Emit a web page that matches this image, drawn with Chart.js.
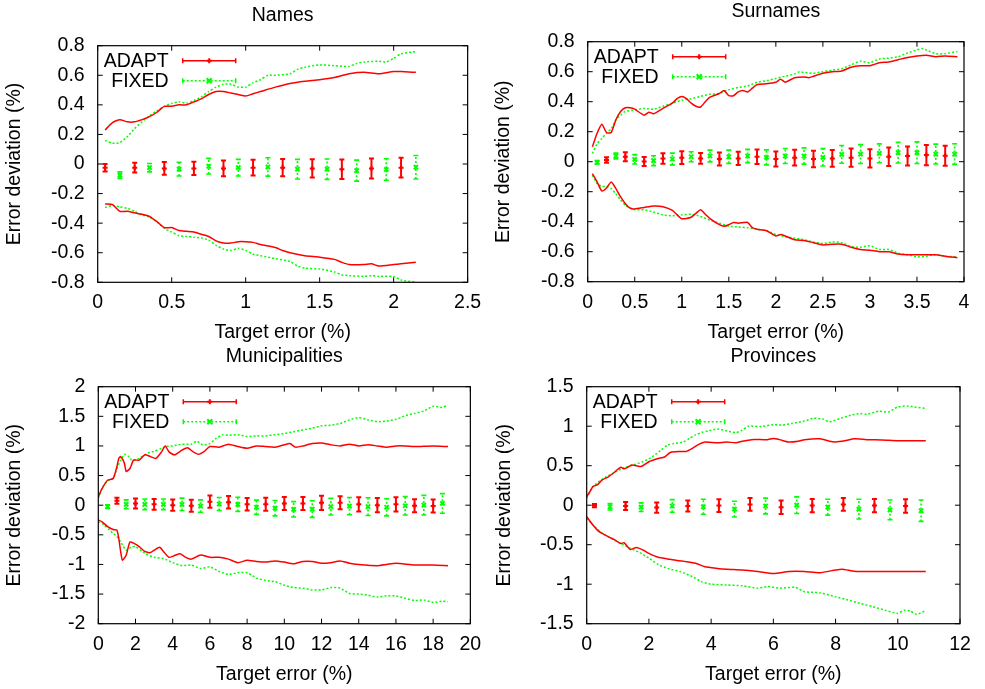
<!DOCTYPE html>
<html><head><meta charset="utf-8">
<script src="https://cdn.jsdelivr.net/npm/chart.js@4"></script>
<style>
html,body{margin:0;padding:0;background:#fff;}
#wrap{position:relative;width:985px;height:689px;background:#fff;overflow:hidden;}
canvas{position:absolute;}
</style></head><body>
<div id="wrap">
<canvas id="c1" width="490" height="345" style="left:0;top:0"></canvas>
<canvas id="c2" width="495" height="345" style="left:490px;top:0"></canvas>
<canvas id="c3" width="490" height="344" style="left:0;top:345px"></canvas>
<canvas id="c4" width="495" height="344" style="left:490px;top:345px"></canvas>
</div>
<script>
// ---------------- DATA ----------------
const titles = ['Names', 'Surnames', 'Municipalities', 'Provinces'];
const seriesNames = ['ADAPT', 'FIXED'];
const xAxisLabel = 'Target error (%)';
const yAxisLabel = 'Error deviation (%)';

const namesXTicks = [0, 0.5, 1, 1.5, 2, 2.5];
const namesYTicks = [-0.8, -0.6, -0.4, -0.2, 0, 0.2, 0.4, 0.6, 0.8];
const surXTicks = [0, 0.5, 1, 1.5, 2, 2.5, 3, 3.5, 4];
const surYTicks = [-0.8, -0.6, -0.4, -0.2, 0, 0.2, 0.4, 0.6, 0.8];
const muniXTicks = [0, 2, 4, 6, 8, 10, 12, 14, 16, 18, 20];
const muniYTicks = [-2, -1.5, -1, -0.5, 0, 0.5, 1, 1.5, 2];
const provXTicks = [0, 2, 4, 6, 8, 10, 12];
const provYTicks = [-1.5, -1, -0.5, 0, 0.5, 1, 1.5];

// Names: envelope lines [x, y]
const namesAdaptHi = [[0.05,0.23],[0.1,0.28],[0.15,0.30],[0.2,0.285],[0.25,0.285],[0.3,0.30],[0.35,0.32],[0.4,0.35],[0.45,0.39],[0.5,0.39],[0.55,0.40],[0.6,0.40],[0.65,0.42],[0.7,0.44],[0.75,0.47],[0.8,0.49],[0.85,0.49],[0.9,0.48],[0.95,0.47],[1.0,0.46],[1.05,0.475],[1.1,0.49],[1.2,0.52],[1.3,0.545],[1.4,0.56],[1.5,0.57],[1.6,0.585],[1.7,0.61],[1.8,0.62],[1.9,0.61],[2.0,0.625],[2.05,0.625],[2.15,0.62]];
const namesFixedHi = [[0.05,0.16],[0.1,0.14],[0.15,0.145],[0.2,0.185],[0.25,0.24],[0.3,0.285],[0.35,0.325],[0.4,0.36],[0.45,0.39],[0.5,0.41],[0.55,0.42],[0.6,0.41],[0.65,0.43],[0.7,0.455],[0.75,0.49],[0.8,0.52],[0.85,0.54],[0.9,0.54],[0.95,0.52],[1.0,0.52],[1.05,0.55],[1.1,0.57],[1.15,0.60],[1.2,0.60],[1.3,0.61],[1.35,0.64],[1.4,0.655],[1.5,0.67],[1.6,0.665],[1.7,0.66],[1.75,0.68],[1.8,0.69],[1.9,0.695],[1.95,0.69],[2.0,0.715],[2.05,0.745],[2.15,0.76]];
const namesAdaptLo = [[0.05,-0.27],[0.1,-0.275],[0.15,-0.32],[0.2,-0.32],[0.25,-0.33],[0.3,-0.34],[0.35,-0.355],[0.4,-0.39],[0.45,-0.43],[0.5,-0.43],[0.55,-0.45],[0.6,-0.455],[0.65,-0.46],[0.7,-0.475],[0.75,-0.49],[0.8,-0.52],[0.85,-0.535],[0.9,-0.535],[0.95,-0.525],[1.0,-0.525],[1.05,-0.53],[1.1,-0.545],[1.2,-0.565],[1.25,-0.585],[1.3,-0.60],[1.4,-0.62],[1.5,-0.63],[1.6,-0.645],[1.65,-0.665],[1.7,-0.68],[1.8,-0.68],[1.85,-0.675],[1.9,-0.69],[2.0,-0.68],[2.05,-0.675],[2.15,-0.665]];
const namesFixedLo = [[0.05,-0.295],[0.1,-0.28],[0.15,-0.29],[0.2,-0.30],[0.25,-0.32],[0.3,-0.345],[0.35,-0.36],[0.4,-0.39],[0.45,-0.435],[0.5,-0.46],[0.55,-0.485],[0.6,-0.49],[0.65,-0.495],[0.7,-0.50],[0.75,-0.515],[0.8,-0.55],[0.85,-0.575],[0.9,-0.585],[0.95,-0.57],[1.0,-0.585],[1.05,-0.61],[1.1,-0.62],[1.2,-0.64],[1.3,-0.66],[1.35,-0.69],[1.4,-0.705],[1.5,-0.71],[1.6,-0.73],[1.65,-0.75],[1.7,-0.755],[1.8,-0.76],[1.85,-0.755],[1.9,-0.76],[2.0,-0.76],[2.05,-0.785],[2.15,-0.80]];
// Names: error bars [x, mean, half-width]
const namesAdaptBars = [[0.05,-0.025,0.025],[0.25,-0.025,0.033],[0.45,-0.03,0.043],[0.65,-0.03,0.045],[0.85,-0.03,0.053],[1.05,-0.025,0.053],[1.25,-0.025,0.058],[1.45,-0.03,0.062],[1.65,-0.035,0.066],[1.85,-0.03,0.068],[2.05,-0.025,0.067]];
const namesFixedBars = [[0.15,-0.075,0.022],[0.35,-0.025,0.028],[0.55,-0.035,0.046],[0.75,-0.015,0.053],[0.95,-0.025,0.056],[1.15,-0.02,0.062],[1.35,-0.035,0.066],[1.55,-0.035,0.069],[1.75,-0.045,0.071],[1.95,-0.037,0.073],[2.15,-0.022,0.079]];

// Surnames
const surAdaptHi = [[0.05,0.10],[0.1,0.19],[0.15,0.25],[0.2,0.195],[0.25,0.195],[0.3,0.28],[0.35,0.335],[0.4,0.36],[0.45,0.36],[0.5,0.35],[0.6,0.31],[0.65,0.33],[0.7,0.32],[0.8,0.355],[0.9,0.39],[0.95,0.42],[1.0,0.435],[1.05,0.42],[1.1,0.39],[1.15,0.37],[1.2,0.365],[1.25,0.40],[1.3,0.43],[1.4,0.455],[1.45,0.475],[1.5,0.44],[1.55,0.44],[1.6,0.465],[1.65,0.475],[1.7,0.465],[1.75,0.49],[1.8,0.515],[1.9,0.52],[2.0,0.53],[2.05,0.55],[2.1,0.53],[2.2,0.56],[2.3,0.565],[2.35,0.56],[2.4,0.57],[2.5,0.59],[2.6,0.60],[2.7,0.605],[2.8,0.63],[2.9,0.64],[3.0,0.64],[3.1,0.66],[3.2,0.665],[3.3,0.68],[3.4,0.695],[3.5,0.705],[3.6,0.71],[3.7,0.70],[3.8,0.705],[3.93,0.70]];
const surFixedHi = [[0.05,0.055],[0.1,0.12],[0.15,0.155],[0.2,0.19],[0.25,0.22],[0.3,0.28],[0.35,0.31],[0.4,0.335],[0.5,0.345],[0.6,0.355],[0.7,0.35],[0.8,0.37],[0.9,0.39],[1.0,0.41],[1.1,0.42],[1.2,0.435],[1.3,0.45],[1.4,0.455],[1.5,0.48],[1.6,0.495],[1.7,0.505],[1.8,0.53],[1.9,0.54],[2.0,0.555],[2.1,0.57],[2.2,0.585],[2.25,0.60],[2.3,0.595],[2.4,0.59],[2.5,0.60],[2.6,0.61],[2.7,0.62],[2.8,0.645],[2.9,0.67],[3.0,0.66],[3.1,0.685],[3.2,0.69],[3.3,0.70],[3.4,0.725],[3.5,0.745],[3.55,0.755],[3.6,0.745],[3.7,0.72],[3.8,0.72],[3.93,0.735]];
const surAdaptLo = [[0.05,-0.08],[0.1,-0.135],[0.15,-0.195],[0.2,-0.175],[0.25,-0.135],[0.3,-0.18],[0.35,-0.235],[0.4,-0.28],[0.45,-0.31],[0.5,-0.315],[0.6,-0.305],[0.7,-0.295],[0.8,-0.30],[0.9,-0.325],[1.0,-0.38],[1.1,-0.37],[1.15,-0.345],[1.2,-0.32],[1.25,-0.35],[1.3,-0.38],[1.4,-0.42],[1.45,-0.43],[1.5,-0.42],[1.55,-0.405],[1.6,-0.41],[1.7,-0.405],[1.75,-0.44],[1.8,-0.45],[1.9,-0.46],[2.0,-0.495],[2.05,-0.485],[2.1,-0.495],[2.2,-0.52],[2.3,-0.525],[2.4,-0.54],[2.5,-0.555],[2.6,-0.55],[2.7,-0.55],[2.8,-0.57],[2.9,-0.585],[3.0,-0.59],[3.1,-0.60],[3.2,-0.60],[3.3,-0.615],[3.4,-0.62],[3.5,-0.62],[3.6,-0.62],[3.7,-0.62],[3.8,-0.63],[3.93,-0.64]];
const surFixedLo = [[0.05,-0.09],[0.1,-0.145],[0.15,-0.165],[0.2,-0.165],[0.25,-0.18],[0.3,-0.215],[0.35,-0.255],[0.4,-0.29],[0.5,-0.32],[0.6,-0.32],[0.7,-0.335],[0.8,-0.355],[0.9,-0.36],[1.0,-0.355],[1.1,-0.35],[1.2,-0.365],[1.3,-0.39],[1.4,-0.41],[1.5,-0.43],[1.6,-0.435],[1.7,-0.44],[1.8,-0.45],[1.9,-0.46],[2.0,-0.485],[2.1,-0.50],[2.2,-0.51],[2.3,-0.52],[2.4,-0.535],[2.5,-0.545],[2.6,-0.535],[2.7,-0.54],[2.8,-0.565],[2.9,-0.57],[3.0,-0.56],[3.1,-0.585],[3.2,-0.585],[3.3,-0.61],[3.4,-0.62],[3.5,-0.635],[3.6,-0.63],[3.7,-0.62],[3.8,-0.63],[3.93,-0.635]];
const surAdaptBars = [[0.2,0.011,0.018],[0.4,0.033,0.03],[0.6,0.002,0.03],[0.8,0.022,0.035],[1.0,0.027,0.042],[1.2,0.022,0.036],[1.4,0.018,0.043],[1.6,0.022,0.044],[1.8,0.033,0.049],[2.0,0.018,0.05],[2.2,0.027,0.052],[2.4,0.018,0.055],[2.6,0.022,0.056],[2.8,0.027,0.061],[3.0,0.022,0.061],[3.2,0.033,0.062],[3.4,0.038,0.063],[3.6,0.044,0.067],[3.8,0.04,0.067]];
const surFixedBars = [[0.1,-0.004,0.011],[0.3,0.038,0.019],[0.5,0.016,0.031],[0.7,0.007,0.033],[0.9,0.018,0.039],[1.1,0.033,0.033],[1.3,0.038,0.039],[1.5,0.033,0.044],[1.7,0.038,0.044],[1.9,0.029,0.05],[2.1,0.038,0.05],[2.3,0.038,0.054],[2.5,0.029,0.058],[2.7,0.049,0.059],[2.9,0.051,0.063],[3.1,0.056,0.063],[3.3,0.06,0.069],[3.5,0.06,0.072],[3.7,0.051,0.066],[3.9,0.051,0.069]];

// Municipalities
const muniAdaptHi = [[0,0.14],[0.2,0.28],[0.5,0.42],[0.8,0.45],[1.0,0.65],[1.1,0.79],[1.2,0.82],[1.4,0.71],[1.5,0.57],[1.7,0.62],[1.9,0.76],[2.2,0.76],[2.5,0.85],[2.8,0.82],[3.1,0.79],[3.4,0.90],[3.6,1.00],[3.8,0.90],[4.1,0.85],[4.5,0.93],[4.8,0.97],[5.1,0.90],[5.4,0.86],[5.7,0.91],[6.0,0.99],[6.5,0.98],[7.0,1.03],[7.5,0.99],[8.0,0.96],[8.5,1.00],[9.0,0.99],[9.5,0.98],[10.0,1.02],[10.3,1.04],[10.6,0.98],[11.0,1.00],[11.5,1.04],[12.0,1.05],[12.5,1.02],[13.0,1.00],[13.5,1.03],[14.0,1.00],[14.5,1.02],[15.0,1.00],[15.5,0.98],[16.0,1.00],[16.5,1.00],[17.0,0.99],[18.0,1.00],[18.8,0.99]];
const muniFixedHi = [[0,0.12],[0.2,0.28],[0.5,0.41],[0.8,0.46],[1.0,0.62],[1.2,0.76],[1.4,0.86],[1.6,0.83],[1.8,0.76],[2.2,0.79],[2.6,0.87],[3.0,0.91],[3.4,0.96],[3.6,0.99],[4.0,1.00],[4.5,1.03],[5.0,1.03],[5.3,1.08],[5.6,1.02],[6.0,1.04],[6.3,1.12],[6.7,1.19],[7.0,1.18],[7.5,1.19],[8.0,1.16],[8.5,1.17],[9.0,1.17],[9.5,1.19],[10.0,1.21],[10.5,1.24],[11.0,1.27],[11.5,1.30],[12.0,1.34],[12.5,1.35],[13.0,1.38],[13.5,1.44],[14.0,1.48],[14.5,1.44],[15.0,1.41],[15.5,1.42],[16.0,1.45],[16.5,1.51],[17.0,1.55],[17.5,1.59],[18.0,1.67],[18.5,1.65],[18.8,1.69]];
const muniAdaptLo = [[0,-0.25],[0.2,-0.28],[0.5,-0.36],[0.8,-0.41],[1.0,-0.42],[1.1,-0.56],[1.2,-0.78],[1.3,-0.93],[1.5,-0.84],[1.7,-0.62],[1.9,-0.64],[2.2,-0.70],[2.5,-0.78],[2.8,-0.80],[3.0,-0.76],[3.3,-0.71],[3.5,-0.78],[3.8,-0.88],[4.1,-0.85],[4.4,-0.82],[4.7,-0.88],[5.0,-0.91],[5.5,-0.84],[6.0,-0.88],[6.5,-0.88],[7.0,-0.91],[7.5,-0.97],[8.0,-0.93],[8.5,-0.95],[9.0,-0.96],[9.5,-0.94],[10.0,-0.96],[10.5,-0.99],[11.0,-0.95],[11.5,-0.95],[12.0,-0.98],[12.5,-0.97],[13.0,-0.94],[13.5,-0.98],[14.0,-1.00],[15.0,-1.02],[15.5,-1.00],[16.0,-0.98],[17.0,-1.01],[18.0,-1.01],[18.8,-1.02]];
const muniFixedLo = [[0,-0.28],[0.3,-0.33],[0.6,-0.42],[1.0,-0.53],[1.2,-0.62],[1.5,-0.76],[1.8,-0.70],[2.0,-0.70],[2.5,-0.81],[3.0,-0.88],[3.5,-0.90],[4.0,-0.97],[4.5,-1.02],[5.0,-1.01],[5.5,-1.07],[6.0,-1.04],[6.5,-1.12],[7.0,-1.17],[7.5,-1.14],[8.0,-1.14],[8.5,-1.23],[9.0,-1.27],[9.5,-1.29],[10.0,-1.35],[10.5,-1.39],[11.0,-1.40],[11.5,-1.43],[12.0,-1.43],[12.5,-1.39],[13.0,-1.40],[13.5,-1.49],[14.0,-1.50],[14.5,-1.52],[15.0,-1.55],[15.5,-1.53],[16.0,-1.53],[16.5,-1.57],[17.0,-1.61],[17.5,-1.60],[18.0,-1.64],[18.5,-1.62],[18.8,-1.63]];
const muniAdaptBars = [[1,0.076,0.05],[2,0.03,0.085],[3,0.015,0.09],[4,0,0.095],[5,-0.01,0.1],[6,0.06,0.105],[7,0.05,0.105],[8,0.015,0.105],[9,0.015,0.11],[10,0.03,0.11],[11,0.03,0.11],[12,0.04,0.12],[13,0.04,0.11],[14,0.015,0.12],[15,0,0.12],[16,0.015,0.12],[17,-0.01,0.11],[18,-0.015,0.11]];
const muniFixedBars = [[0.5,-0.025,0.03],[1.5,0.015,0.075],[2.5,0.015,0.09],[3.5,0.015,0.09],[4.5,0.015,0.105],[5.5,-0.015,0.105],[6.5,0.02,0.11],[7.5,0.015,0.12],[8.5,-0.035,0.12],[9.5,-0.05,0.13],[10.5,-0.07,0.13],[11.5,-0.065,0.14],[12.5,-0.025,0.14],[13.5,-0.015,0.145],[14.5,-0.025,0.15],[15.5,-0.035,0.145],[16.5,-0.01,0.155],[17.5,0,0.165],[18.5,0.03,0.165]];

// Provinces
const provAdaptHi = [[0,0.11],[0.1,0.17],[0.2,0.235],[0.35,0.26],[0.5,0.32],[0.7,0.36],[0.9,0.42],[1.0,0.455],[1.1,0.48],[1.2,0.46],[1.3,0.475],[1.45,0.51],[1.6,0.50],[1.75,0.49],[2.0,0.55],[2.3,0.59],[2.5,0.61],[2.7,0.67],[3.0,0.68],[3.2,0.68],[3.4,0.72],[3.6,0.77],[3.8,0.80],[4.2,0.79],[4.5,0.80],[4.8,0.79],[5.0,0.81],[5.3,0.83],[5.8,0.83],[6.0,0.845],[6.2,0.83],[6.5,0.80],[6.8,0.81],[7.0,0.83],[7.5,0.84],[7.8,0.81],[8.0,0.80],[8.3,0.815],[8.6,0.84],[9.0,0.83],[9.5,0.825],[10.0,0.815],[10.5,0.815],[10.9,0.815]];
const provFixedHi = [[0,0.09],[0.2,0.235],[0.5,0.33],[0.9,0.415],[1.2,0.475],[1.5,0.51],[1.8,0.55],[2.1,0.61],[2.4,0.70],[2.6,0.76],[2.8,0.78],[3.1,0.80],[3.3,0.845],[3.5,0.89],[3.7,0.92],[3.9,0.94],[4.2,0.965],[4.5,0.94],[4.8,0.92],[5.0,0.95],[5.2,1.00],[5.6,0.995],[6.0,1.02],[6.3,1.015],[6.6,1.035],[7.0,1.065],[7.3,1.10],[7.6,1.09],[7.8,1.055],[8.2,1.105],[8.5,1.14],[8.8,1.16],[9.0,1.15],[9.4,1.19],[9.7,1.18],[10.0,1.245],[10.3,1.255],[10.6,1.24],[10.9,1.225]];
const provAdaptLo = [[0,-0.145],[0.2,-0.25],[0.4,-0.335],[0.7,-0.40],[0.9,-0.44],[1.1,-0.485],[1.2,-0.475],[1.4,-0.56],[1.6,-0.535],[1.8,-0.565],[2.0,-0.61],[2.3,-0.66],[2.6,-0.68],[2.9,-0.70],[3.2,-0.715],[3.5,-0.735],[3.8,-0.78],[4.2,-0.80],[4.5,-0.81],[5.0,-0.82],[5.5,-0.84],[6.0,-0.865],[6.5,-0.84],[7.0,-0.84],[7.5,-0.855],[8.0,-0.82],[8.2,-0.81],[8.6,-0.835],[9.0,-0.84],[10.0,-0.84],[10.9,-0.84]];
const provFixedLo = [[0,-0.165],[0.2,-0.25],[0.5,-0.355],[0.8,-0.42],[1.1,-0.485],[1.4,-0.545],[1.7,-0.60],[2.0,-0.67],[2.3,-0.75],[2.6,-0.80],[3.0,-0.84],[3.4,-0.905],[3.7,-0.97],[4.0,-1.00],[4.5,-1.01],[5.0,-1.02],[5.5,-1.05],[5.8,-1.03],[6.2,-1.05],[6.7,-1.04],[7.0,-1.095],[7.5,-1.11],[8.0,-1.16],[8.4,-1.20],[8.8,-1.245],[9.2,-1.285],[9.6,-1.33],[10.0,-1.37],[10.2,-1.33],[10.4,-1.34],[10.6,-1.38],[10.9,-1.335]];
const provAdaptBars = [[0.25,-0.005,0.02],[1.25,-0.01,0.05],[2.25,-0.03,0.065],[3.25,-0.01,0.07],[4.25,-0.005,0.08],[5.25,0.01,0.08],[6.25,-0.025,0.085],[7.25,-0.005,0.085],[8.25,0.01,0.08],[9.25,-0.005,0.085],[10.25,-0.01,0.085]];
const provFixedBars = [[0.75,-0.02,0.04],[1.75,-0.025,0.055],[2.75,-0.01,0.08],[3.75,-0.02,0.095],[4.75,-0.05,0.1],[5.75,-0.01,0.1],[6.75,0,0.105],[7.75,-0.025,0.1],[8.75,-0.05,0.125],[9.75,-0.06,0.125],[10.75,-0.07,0.135]];

// ---------------- STYLE ----------------
const FONT = '"Liberation Sans", Arial, Helvetica, sans-serif';
const FS = 19.5;
const HALF_LH = FS * 1.2 / 2;
const RED = '#ff0000';
const GREEN = '#00ff00';
const DOT = [2, 2];
const CAP = 2.5;
const TICK_LEN = 5;

function drawMarker(ctx, style, x, y, r) {
  ctx.beginPath();
  if (style === 'cross') {
    ctx.moveTo(x - r, y); ctx.lineTo(x + r, y);
    ctx.moveTo(x, y - r); ctx.lineTo(x, y + r);
  } else {
    ctx.moveTo(x - r, y - r); ctx.lineTo(x + r, y + r);
    ctx.moveTo(x - r, y + r); ctx.lineTo(x + r, y - r);
  }
  ctx.stroke();
}

const gpPlugin = {
  id: 'gp',
  afterDatasetsDraw(chart) {
    const ctx = chart.ctx, xs = chart.scales.x, ys = chart.scales.y;
    chart.data.datasets.forEach(ds => {
      if (!ds.errors) return;
      ctx.save();
      ctx.strokeStyle = ds.borderColor;
      ds.data.forEach((p, i) => {
        const e = ds.errors[i];
        const px = xs.getPixelForValue(p.x);
        const y1 = ys.getPixelForValue(p.y - e);
        const y2 = ys.getPixelForValue(p.y + e);
        ctx.lineWidth = ds.errWidth;
        ctx.setLineDash(ds.errDash);
        ctx.beginPath();
        ctx.moveTo(px, y1); ctx.lineTo(px, y2);
        ctx.stroke();
        ctx.beginPath();
        ctx.moveTo(px - CAP, y1); ctx.lineTo(px + CAP, y1);
        ctx.moveTo(px - CAP, y2); ctx.lineTo(px + CAP, y2);
        ctx.setLineDash([]);
        ctx.stroke();
      });
      ctx.restore();
    });
  },
  afterDraw(chart, args, opts) {
    const ctx = chart.ctx, a = chart.chartArea, xs = chart.scales.x, ys = chart.scales.y;
    ctx.save();
    ctx.strokeStyle = '#000';
    ctx.lineWidth = 1.2;
    ctx.setLineDash([]);
    ctx.strokeRect(a.left, a.top, a.right - a.left, a.bottom - a.top);
    ctx.lineWidth = 1;
    ctx.beginPath();
    ys.ticks.forEach(t => {
      const y = ys.getPixelForValue(t.value);
      ctx.moveTo(a.left, y); ctx.lineTo(a.left + TICK_LEN, y);
      ctx.moveTo(a.right, y); ctx.lineTo(a.right - TICK_LEN, y);
    });
    xs.ticks.forEach(t => {
      const x = xs.getPixelForValue(t.value);
      ctx.moveTo(x, a.bottom); ctx.lineTo(x, a.bottom - TICK_LEN);
      ctx.moveTo(x, a.top); ctx.lineTo(x, a.top + TICK_LEN);
    });
    ctx.stroke();
    // legend
    const rows = [a.top + 15, a.top + 35];
    opts.entries.forEach((en, i) => {
      const y = rows[i];
      ctx.fillStyle = '#000';
      ctx.font = FS + 'px ' + FONT;
      ctx.textAlign = 'right';
      ctx.textBaseline = 'middle';
      ctx.fillText(en.text, a.left + 71, y + 1);
      const x1 = a.left + 85, x2 = a.left + 138, xm = (x1 + x2) / 2;
      ctx.strokeStyle = en.color;
      ctx.lineWidth = 1.5;
      ctx.setLineDash(en.dash);
      ctx.beginPath(); ctx.moveTo(x1, y); ctx.lineTo(x2, y); ctx.stroke();
      ctx.setLineDash([]);
      ctx.beginPath();
      ctx.moveTo(x1, y - CAP); ctx.lineTo(x1, y + CAP);
      ctx.moveTo(x2, y - CAP); ctx.lineTo(x2, y + CAP);
      ctx.stroke();
      ctx.lineWidth = 2;
      drawMarker(ctx, en.style, xm, y, en.style === 'cross' ? 2.5 : 2.5);
    });
    ctx.restore();
  }
};

function makeChart(id, g, titleText, xTicks, yTicks, lines, bars) {
  const datasets = [];
  lines.forEach(l => datasets.push({
    label: l.label,
    data: l.pts.map(p => ({x: p[0], y: p[1]})),
    showLine: true,
    borderColor: l.color,
    backgroundColor: l.color,
    borderWidth: 1.5,
    borderDash: l.dash,
    pointRadius: 0,
    tension: 0.2,
    fill: false
  }));
  bars.forEach(b => datasets.push({
    label: b.label,
    data: b.pts.map(p => ({x: p[0], y: p[1]})),
    errors: b.pts.map(p => p[2]),
    errDash: b.dash,
    errWidth: b.width,
    showLine: false,
    pointStyle: b.style,
    pointRadius: b.style === 'cross' ? 2.5 : 3,
    pointBorderWidth: 2,
    borderColor: b.color,
    backgroundColor: b.color
  }));
  const tickFont = {family: FONT, size: FS};
  return new Chart(document.getElementById(id), {
    type: 'scatter',
    data: {datasets},
    options: {
      responsive: false,
      animation: false,
      devicePixelRatio: 1,
      layout: {padding: {left: 0, top: 0, right: g.W - g.right, bottom: 0}},
      plugins: {
        legend: {display: false},
        tooltip: {enabled: false},
        title: {
          display: true, text: titleText, fullSize: false, color: '#000',
          font: {family: FONT, size: FS, weight: 'normal'},
          padding: {top: g.titleY - HALF_LH, bottom: g.top - g.titleY - HALF_LH}
        },
        gp: {entries: [
          {text: seriesNames[0], color: RED, dash: [], style: 'cross'},
          {text: seriesNames[1], color: GREEN, dash: DOT, style: 'crossRot'}
        ]}
      },
      scales: {
        x: {
          type: 'linear',
          min: xTicks[0], max: xTicks[xTicks.length - 1],
          afterBuildTicks: ax => { ax.ticks = xTicks.map(v => ({value: v})); },
          afterFit: ax => { ax.height = g.H - g.bottom; },
          grid: {display: false, drawTicks: false},
          border: {display: false},
          ticks: {autoSkip: false, maxRotation: 0, padding: 8.8, color: '#000', font: tickFont, callback: v => String(v)},
          title: {display: true, text: xAxisLabel, color: '#000', font: tickFont,
                  padding: {top: 0, bottom: g.H - g.bottom - HALF_LH - 50.5}}
        },
        y: {
          type: 'linear',
          min: yTicks[0], max: yTicks[yTicks.length - 1],
          afterBuildTicks: ax => { ax.ticks = yTicks.map(v => ({value: v})); },
          afterFit: ax => { ax.width = g.left; },
          grid: {display: false, drawTicks: false},
          border: {display: false},
          ticks: {autoSkip: false, padding: 13, color: '#000', font: tickFont, callback: v => String(v)},
          title: {display: true, text: yAxisLabel, color: '#000', font: tickFont,
                  padding: {top: g.ylabX - HALF_LH, bottom: 0}}
        }
      }
    },
    plugins: [gpPlugin]
  });
}

function spec(aHi, fHi, aLo, fLo, aBars, fBars) {
  return {
    lines: [
      {label: seriesNames[0], pts: aHi, color: RED, dash: []},
      {label: seriesNames[1], pts: fHi, color: GREEN, dash: DOT},
      {label: seriesNames[0], pts: aLo, color: RED, dash: []},
      {label: seriesNames[1], pts: fLo, color: GREEN, dash: DOT}
    ],
    bars: [
      {label: seriesNames[0], pts: aBars, color: RED, dash: [], style: 'cross', width: 2},
      {label: seriesNames[1], pts: fBars, color: GREEN, dash: DOT, style: 'crossRot', width: 1.6}
    ]
  };
}

const s1 = spec(namesAdaptHi, namesFixedHi, namesAdaptLo, namesFixedLo, namesAdaptBars, namesFixedBars);
const s2 = spec(surAdaptHi, surFixedHi, surAdaptLo, surFixedLo, surAdaptBars, surFixedBars);
const s3 = spec(muniAdaptHi, muniFixedHi, muniAdaptLo, muniFixedLo, muniAdaptBars, muniFixedBars);
const s4 = spec(provAdaptHi, provFixedHi, provAdaptLo, provFixedLo, provAdaptBars, provFixedBars);

makeChart('c1', {W: 490, H: 345, left: 97.7, top: 45.7, right: 468.3, bottom: 282.3, titleY: 15.7, ylabX: 15}, titles[0], namesXTicks, namesYTicks, s1.lines, s1.bars);
makeChart('c2', {W: 495, H: 345, left: 97.7, top: 41.7, right: 474, bottom: 281.7, titleY: 11.7, ylabX: 14}, titles[1], surXTicks, surYTicks, s2.lines, s2.bars);
makeChart('c3', {W: 490, H: 344, left: 98.3, top: 41.7, right: 471, bottom: 278.7, titleY: 11.7, ylabX: 15}, titles[2], muniXTicks, muniYTicks, s3.lines, s3.bars);
makeChart('c4', {W: 495, H: 344, left: 96.7, top: 41.7, right: 470, bottom: 278.7, titleY: 12, ylabX: 15}, titles[3], provXTicks, provYTicks, s4.lines, s4.bars);
</script>
</body></html>
